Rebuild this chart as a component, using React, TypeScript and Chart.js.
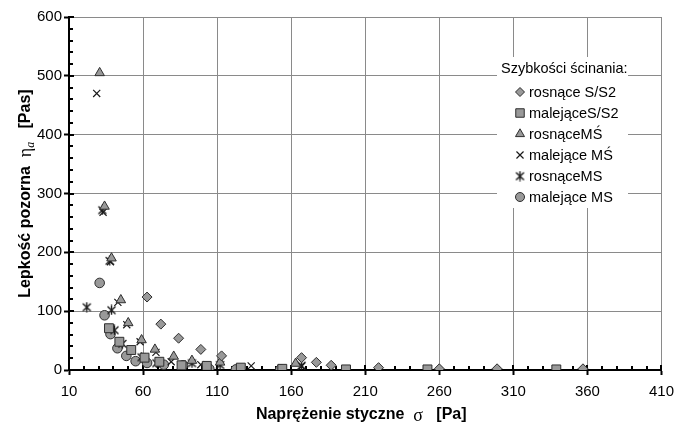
import React, { useEffect, useRef } from "react";
import { Chart, registerables } from "chart.js";
import { drawPoint } from "chart.js/helpers";

Chart.register(...registerables);

// ---- tick labels ----
const xTickValues = [10, 60, 110, 160, 210, 260, 310, 360, 410];
const yTickValues = [0, 100, 200, 300, 400, 500, 600];
const xMinorStep = 10;
const yMinorStep = 20;

// ---- legend / series names ----
const legendTitle = "Szybkości ścinania:";
const seriesNames = [
  "rosnące S/S2",
  "malejąceS/S2",
  "rosnąceMŚ",
  "malejące MŚ",
  "rosnąceMS",
  "malejące MS",
];

// ---- series values (shear stress [Pa], apparent viscosity [Pas]) ----
const rosSS2X = [62.7, 72, 84, 99, 113, 167, 177, 187, 219, 260, 299, 357];
const rosSS2Y = [124, 78, 54, 35, 24, 21, 13, 8, 4, 2, 2, 2];

const malSS2X = [37, 44, 52, 61, 71, 86, 103, 126, 154, 197, 252, 339];
const malSS2Y = [71, 48, 34, 21, 14, 8, 7, 4, 2, 1, 1, 1];

const rosMSacX = [30.7, 34, 38.7, 45, 50, 59, 68, 80.7, 93, 112, 163];
const rosMSacY = [505, 278, 190, 119, 80, 51, 35, 23, 16, 13, 11];

const malMSacX = [28.7, 33, 38, 43, 49, 58, 68.7, 79, 99, 133, 167];
const malMSacY = [470, 268, 184, 115, 77, 48, 30, 14, 9, 7, 6];

const rosMSX = [22, 32.5, 37.5, 38.7, 40.7, 46, 59, 69, 93, 112, 167];
const rosMSY = [107, 272, 186, 102, 68, 45, 22, 12, 12, 9, 8];

const malMSX = [30.7, 34, 38, 42.7, 48.7, 55, 62.7, 74, 87, 104.7, 122.7, 152.7];
const malMSY = [148, 93, 61, 37, 24, 15, 12, 9, 8, 2, 1, 1];

const FONT = "'Liberation Sans', Arial, sans-serif";
const SYMFONT = "'Liberation Serif', 'DejaVu Serif', serif";
const FILL = "#999999";
const EDGE = "#2e2e2e";

function pts(xs: number[], ys: number[]) {
  return xs.map((x, i) => ({ x, y: ys[i] }));
}

function makeAsterisk(): HTMLCanvasElement {
  const c = document.createElement("canvas");
  c.width = 11;
  c.height = 11;
  const g = c.getContext("2d")!;
  g.strokeStyle = "#1a1a1a";
  g.lineWidth = 1.4;
  g.beginPath();
  g.moveTo(1.5, 2);
  g.lineTo(9.5, 9.5);
  g.moveTo(9.5, 2);
  g.lineTo(1.5, 9.5);
  g.moveTo(5.5, 0.5);
  g.lineTo(5.5, 10.5);
  g.stroke();
  return c;
}

type Seg = { text: string; font: string; dy?: number };

function drawSegs(ctx: CanvasRenderingContext2D, segs: Seg[], cx: number, cy: number) {
  let total = 0;
  for (const s of segs) {
    ctx.font = s.font;
    total += ctx.measureText(s.text).width;
  }
  let x = cx - total / 2;
  ctx.textBaseline = "alphabetic";
  ctx.textAlign = "left";
  for (const s of segs) {
    ctx.font = s.font;
    ctx.fillText(s.text, x, cy + (s.dy || 0));
    x += ctx.measureText(s.text).width;
  }
}

const titlesPlugin = {
  id: "axisTitles",
  afterDraw(chart: any) {
    const { ctx, chartArea } = chart;
    ctx.save();
    ctx.fillStyle = "#000";
    const bold = `bold 16px ${FONT}`;
    drawSegs(
      ctx,
      [
        { text: "Naprężenie styczne  ", font: bold },
        { text: "σ", font: `18px ${SYMFONT}`, dy: 2 },
        { text: "   [Pa]", font: bold },
      ],
      (chartArea.left + chartArea.right) / 2 - 4,
      419
    );
    ctx.translate(30, (chartArea.top + chartArea.bottom) / 2);
    ctx.rotate(-Math.PI / 2);
    drawSegs(
      ctx,
      [
        { text: "Lepkość pozorna  ", font: bold },
        { text: "η", font: `18px ${SYMFONT}`, dy: 1 },
        { text: "a", font: `italic 12px ${SYMFONT}`, dy: 4 },
        { text: "   [Pas]", font: bold },
      ],
      0,
      0
    );
    ctx.restore();
  },
};

const minorTicksPlugin = {
  id: "minorTicks",
  beforeDatasetsDraw(chart: any) {
    const { ctx, chartArea, scales } = chart;
    const xs = scales.x;
    const ys = scales.y;
    ctx.save();
    ctx.strokeStyle = "#000";
    ctx.lineWidth = 2;
    ctx.beginPath();
    for (let v = xs.min; v <= xs.max + 1e-6; v += xMinorStep) {
      const px = Math.round(xs.getPixelForValue(v));
      const major = xTickValues.includes(v);
      ctx.moveTo(px, chartArea.bottom);
      ctx.lineTo(px, chartArea.bottom - (major ? 5 : 4));
    }
    for (let v = ys.min; v <= ys.max + 1e-6; v += yMinorStep) {
      const py = Math.round(ys.getPixelForValue(v));
      const major = yTickValues.includes(v);
      ctx.moveTo(chartArea.left, py);
      ctx.lineTo(chartArea.left + (major ? 5 : 4), py);
    }
    ctx.stroke();
    ctx.restore();
  },
};

const legendPlugin = {
  id: "boxLegend",
  afterDatasetsDraw(chart: any) {
    const { ctx } = chart;
    const boxL = 497;
    const boxT = 57;
    const boxW = 131;
    const boxH = 151;
    ctx.save();
    ctx.fillStyle = "#ffffff";
    ctx.fillRect(boxL, boxT, boxW, boxH);
    ctx.fillStyle = "#000";
    ctx.font = `14.5px ${FONT}`;
    ctx.textBaseline = "middle";
    ctx.textAlign = "left";
    ctx.fillText(legendTitle, 501, 69);
    chart.data.datasets.forEach((ds: any, i: number) => {
      const y = 92 + i * 21;
      const mx = 520;
      if (ds.pointStyle instanceof HTMLCanvasElement) {
        const im = ds.pointStyle as HTMLCanvasElement;
        ctx.drawImage(im, mx - im.width / 2, y - im.height / 2);
      } else {
        ctx.fillStyle = ds.pointBackgroundColor;
        ctx.strokeStyle = ds.pointBorderColor;
        ctx.lineWidth = ds.pointBorderWidth;
        drawPoint(ctx, {
          pointStyle: ds.pointStyle,
          radius: ds.legendRadius,
          borderWidth: ds.pointBorderWidth,
          rotation: 0,
        } as any, mx, y);
      }
      ctx.fillStyle = "#000";
      ctx.font = `14.5px ${FONT}`;
      ctx.textBaseline = "middle";
      ctx.fillText(ds.label, 529, y + 1);
    });
    ctx.restore();
  },
};

export default function App() {
  const ref = useRef<HTMLCanvasElement | null>(null);

  useEffect(() => {
    if (!ref.current) return;
    const asterisk = makeAsterisk();
    const common = {
      pointBackgroundColor: FILL,
      pointBorderColor: EDGE,
      pointBorderWidth: 1,
      showLine: false,
    };
    const chart = new Chart(ref.current, {
      type: "scatter",
      data: {
        datasets: [
          { ...common, label: seriesNames[0], data: pts(rosSS2X, rosSS2Y), pointStyle: "rectRot", pointRadius: 5, legendRadius: 4.5 },
          { ...common, label: seriesNames[1], data: pts(malSS2X, malSS2Y), pointStyle: "rect", pointRadius: 6.3, legendRadius: 6 },
          { ...common, label: seriesNames[2], data: pts(rosMSacX, rosMSacY), pointStyle: "triangle", pointRadius: 5.5, legendRadius: 5.2 },
          { ...common, label: seriesNames[3], data: pts(malMSacX, malMSacY), pointStyle: "crossRot", pointRadius: 5, pointBorderColor: "#1a1a1a", pointBorderWidth: 1.2, legendRadius: 5 },
          { ...common, label: seriesNames[4], data: pts(rosMSX, rosMSY), pointStyle: asterisk, pointRadius: 5, legendRadius: 5 },
          { ...common, label: seriesNames[5], data: pts(malMSX, malMSY), pointStyle: "circle", pointRadius: 4.8, legendRadius: 4.5 },
        ] as any,
      },
      options: {
        responsive: false,
        maintainAspectRatio: false,
        animation: false,
        layout: { padding: { top: 17, right: 13, left: 0, bottom: 0 } },
        plugins: {
          legend: { display: false },
          tooltip: { enabled: false },
        },
        scales: {
          x: {
            type: "linear",
            min: xTickValues[0],
            max: xTickValues[xTickValues.length - 1],
            afterBuildTicks: (s: any) => {
              s.ticks = xTickValues.map((v) => ({ value: v }));
            },
            afterFit: (s: any) => {
              s.height = 56;
            },
            ticks: {
              color: "#000",
              font: { family: FONT, size: 15 },
              padding: 8,
              maxRotation: 0,
              autoSkip: false,
            },
            grid: { color: "#8a8a8a", lineWidth: 1, tickColor: "#000", tickLength: 5, tickWidth: 2 },
            border: { color: "#000", width: 2 },
          },
          y: {
            type: "linear",
            min: yTickValues[0],
            max: yTickValues[yTickValues.length - 1],
            afterBuildTicks: (s: any) => {
              s.ticks = yTickValues.map((v) => ({ value: v }));
            },
            afterFit: (s: any) => {
              s.width = 69;
            },
            ticks: {
              color: "#000",
              font: { family: FONT, size: 15 },
              padding: 2,
              autoSkip: false,
            },
            grid: { color: "#8a8a8a", lineWidth: 1, tickColor: "#000", tickLength: 5, tickWidth: 2 },
            border: { color: "#000", width: 2 },
          },
        },
      } as any,
      plugins: [minorTicksPlugin, legendPlugin, titlesPlugin],
    });
    return () => chart.destroy();
  }, []);

  return (
    <div style={{ position: "fixed", left: 0, top: 0, width: 682, height: 426, background: "#fff" }}>
      <canvas ref={ref} width={682} height={426} style={{ width: 682, height: 426, display: "block" }} />
    </div>
  );
}
